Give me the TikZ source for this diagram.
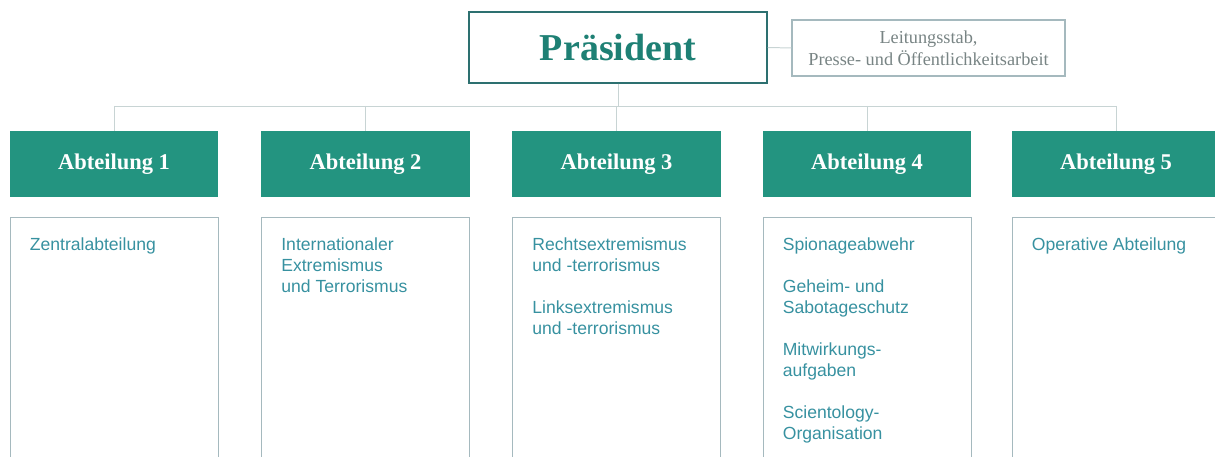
\documentclass[tikz,border=0pt]{standalone}
\usepackage{fontspec}
\setmainfont{Liberation Serif}
\setsansfont{Liberation Sans}

\definecolor{abtgruen}{RGB}{35,148,128}
\definecolor{praesgruen}{RGB}{30,128,116}
\definecolor{praesrand}{RGB}{45,112,112}
\definecolor{linie}{RGB}{200,212,212}
\definecolor{schrift}{RGB}{55,145,160}
\definecolor{rahmen}{RGB}{165,185,190}
\definecolor{stabschrift}{RGB}{120,132,132}

\tikzset{
    abteilung/.style={fill=abtgruen, text=white, font=\bfseries\fontsize{16}{19}\selectfont,
        minimum width=5.2cm, minimum height=1.625cm, inner sep=0pt},
    aufgaben/.style={draw=rahmen, line width=0.6pt, minimum width=5.2cm,
        minimum height=6.575cm, anchor=north, inner sep=0pt},
    aufgabentext/.style={font=\sffamily\fontsize{12.5}{15}\selectfont, text=schrift,
        align=left, anchor=north west, inner sep=0pt},
    linie/.style={draw=linie, line width=0.7pt}
}

\begin{document}
\begin{tikzpicture}[x=0.025cm, y=-0.025cm]
    \useasboundingbox (0,0) rectangle (1215,457);

    \node[draw=praesrand, line width=1pt, minimum width=7.45cm, minimum height=1.775cm,
        text=praesgruen, font=\bfseries\fontsize{27}{30}\selectfont] (praes) at (618,47.5) {Präsident};
    \node[draw=rahmen, line width=0.8pt, minimum width=6.825cm, minimum height=1.4cm,
        text=stabschrift, align=center, font=\fontsize{13}{15.5}\selectfont] (stab) at (928.5,48)
        {Leitungsstab,\\Presse- und Öffentlichkeitsarbeit};
    \draw[linie] (praes.east) -- (stab.west);

    \node[abteilung] (abt1) at (114,164) {Abteilung 1};
    \node[abteilung] (abt2) at (365.5,164) {Abteilung 2};
    \node[abteilung] (abt3) at (616.5,164) {Abteilung 3};
    \node[abteilung] (abt4) at (867,164) {Abteilung 4};
    \node[abteilung] (abt5) at (1116,164) {Abteilung 5};

    % Verbindungslinien
    \coordinate (links) at (abt1.north |- 0,106);
    \coordinate (rechts) at (abt5.north |- 0,106);
    \draw[linie] (links) -- (rechts);
    \draw[linie] (praes.south) -- (praes.south |- links);
    \draw[linie] (links) -- (abt1.north);
    \draw[linie] (abt2.north |- links) -- (abt2.north);
    \draw[linie] (abt3.north |- links) -- (abt3.north);
    \draw[linie] (abt4.north |- links) -- (abt4.north);
    \draw[linie] (rechts) -- (abt5.north);

    \node[aufgaben] (box1) at (114,217) {};
    \node[aufgaben] (box2) at (365.5,217) {};
    \node[aufgaben] (box3) at (616.5,217) {};
    \node[aufgaben] (box4) at (867,217) {};
    \node[aufgaben] (box5) at (1116,217) {};

    \node[aufgabentext] (txt1) at ([xshift=0.5cm, yshift=-0.5cm]box1.north west) {Zentralabteilung};
    \node[aufgabentext] (txt2) at ([xshift=0.5cm, yshift=-0.5cm]box2.north west)
        {Internationaler\\Extremismus\\und Terrorismus};
    \node[aufgabentext] (txt3) at ([xshift=0.5cm, yshift=-0.5cm]box3.north west)
        {Rechtsextremismus\\und -terrorismus\\[15pt]Linksextremismus\\und -terrorismus};
    \node[aufgabentext] (txt4) at ([xshift=0.5cm, yshift=-0.5cm]box4.north west)
        {Spionageabwehr\\[15pt]Geheim- und\\Sabotageschutz\\[15pt]Mitwirkungs-\\aufgaben\\[15pt]Scientology-\\Organisation};
    \node[aufgabentext] (txt5) at ([xshift=0.5cm, yshift=-0.5cm]box5.north west) {Operative Abteilung};
\end{tikzpicture}
\end{document}
